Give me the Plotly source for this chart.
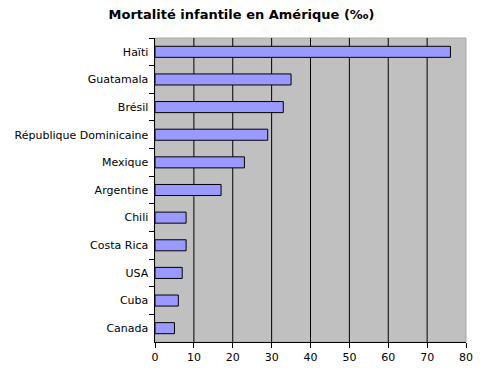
import plotly.graph_objects as go

countries = ["Haïti", "Guatamala", "Brésil", "République Dominicaine", "Mexique",
             "Argentine", "Chili", "Costa Rica", "USA", "Cuba", "Canada"]
mortality = [76, 35, 33, 29, 23, 17, 8, 8, 7, 6, 5]
x_ticks = [0, 10, 20, 30, 40, 50, 60, 70, 80]

fig = go.Figure(go.Bar(
    x=mortality, y=countries, orientation="h",
    marker=dict(color="#9999FF", line=dict(color="black", width=1)),
    width=0.4,
))

fig.update_layout(
    width=486, height=368,
    margin=dict(l=155, r=20, t=38, b=26, autoexpand=False),
    paper_bgcolor="white", plot_bgcolor="#C0C0C0",
    title=dict(text="<b>Mortalité infantile en Amérique (‰)</b>", x=0.497, xanchor="center",
               y=0.962, yanchor="middle", font=dict(family="DejaVu Sans", size=13, color="black")),
    font=dict(family="DejaVu Sans", size=11, color="black"),
    showlegend=False,
)
fig.update_xaxes(range=[0, 80], tickvals=x_ticks, showgrid=False,
                 showline=True, linecolor="black", linewidth=1, ticks="outside", ticklen=5,
                 tickcolor="black", zeroline=False, fixedrange=True, automargin=False)
fig.update_yaxes(autorange="reversed", showline=True, linecolor="black", linewidth=1,
                 ticks="outside", ticklen=5, tickcolor="black", tickson="boundaries",
                 showgrid=False, ticksuffix=" ", fixedrange=True, automargin=False)
fig.add_shape(type="rect", xref="paper", yref="paper", x0=0, x1=1, y0=0, y1=1,
              line=dict(color="#A8A8A8", width=1), layer="below")
for t in x_ticks[1:-1]:
    fig.add_vline(x=t, line=dict(color="black", width=1), layer="below")

fig.write_html("out.html", config={"displayModeBar": False},
               post_script="document.body.style.margin='0';document.body.style.overflow='hidden';")
